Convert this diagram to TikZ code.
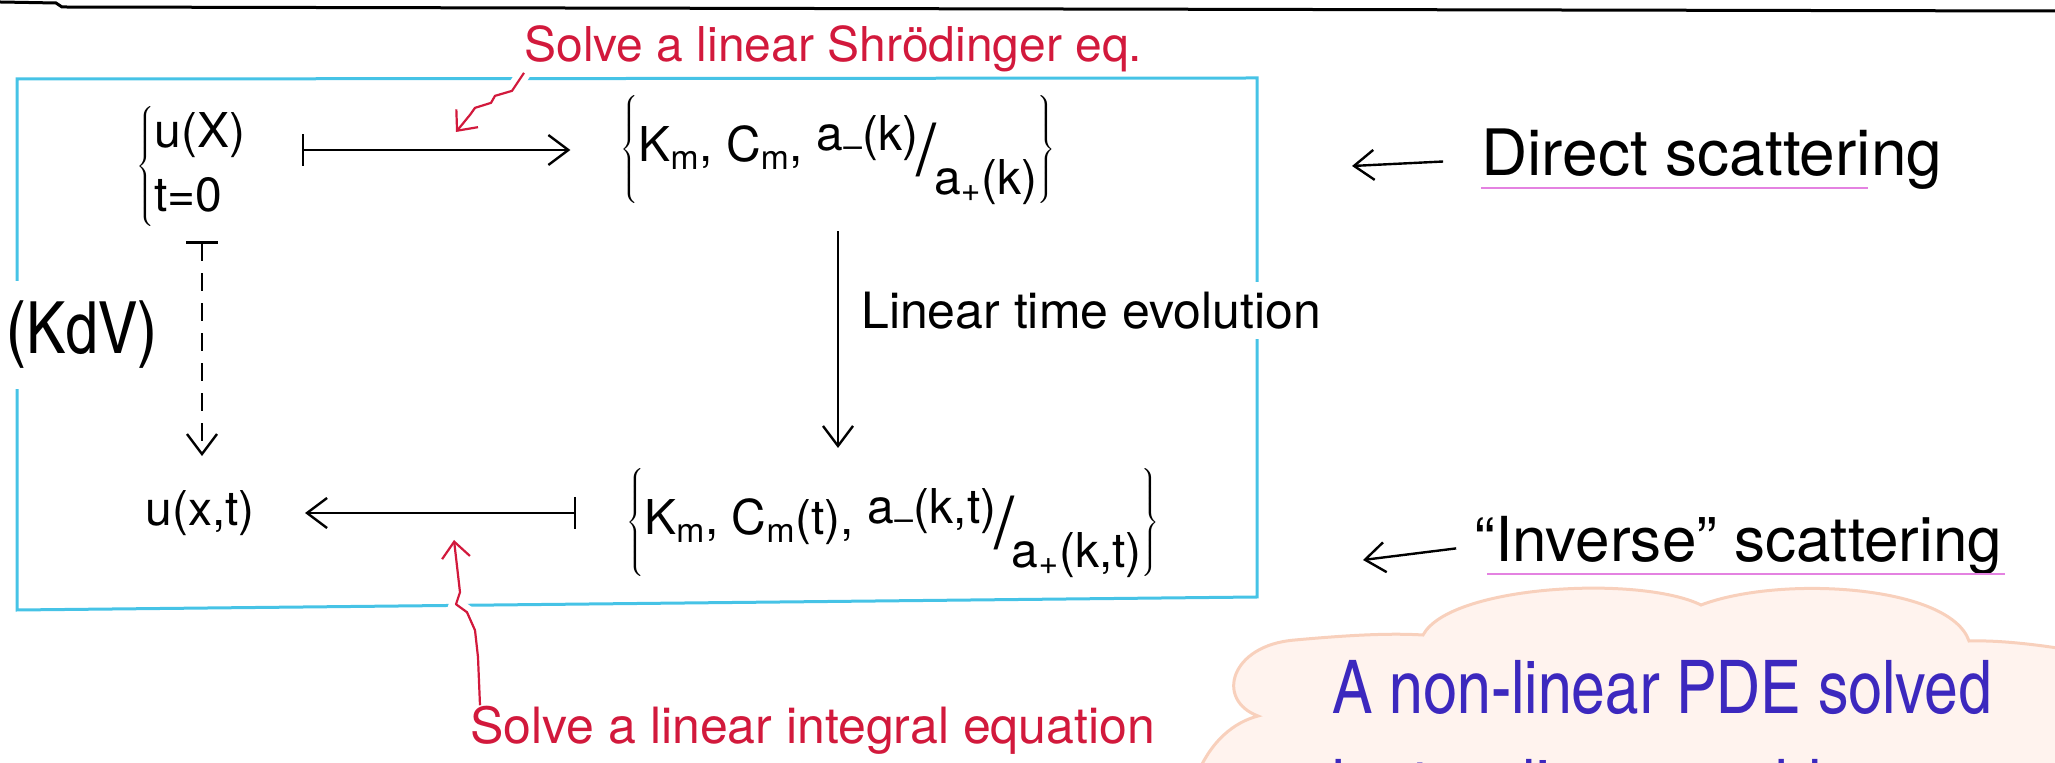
\documentclass[tikz,border=0pt]{standalone}
\usepackage{fontspec}
\setmainfont{TeX Gyre Heros}
\newfontfamily\cnfont{TeX Gyre Heros Cn}
\usepackage{graphicx}
\usetikzlibrary{arrows.meta,positioning,calc}
\definecolor{inkred}{RGB}{210,25,60}
\definecolor{inkblue}{RGB}{60,40,190}
\definecolor{boxcyan}{RGB}{70,195,230}
\definecolor{hilite}{RGB}{228,130,225}
\definecolor{cloudfill}{RGB}{255,243,238}
\definecolor{cloudline}{RGB}{248,208,188}
\newcommand{\slfrac}[2]{\raisebox{0.45ex}{#1}\kern-0.05em\raisebox{-0.55ex}{\scalebox{1.5}{/}}\kern-0.05em\raisebox{-1.3ex}{#2}}

\begin{document}
\begin{tikzpicture}[x=0.5pt, y=-0.5pt,
    math/.style={inner sep=0pt, font=\fontsize{24}{32}\selectfont},
    note/.style={inner sep=0pt, text=inkred, font=\fontsize{24}{28}\selectfont},
    side/.style={inner sep=0pt, font=\fontsize{32}{36}\selectfont},
    cloudtext/.style={inner sep=0pt, text=inkblue, font=\cnfont\fontsize{37}{40}\selectfont},
    arr/.style={-{Straight Barb[length=10pt, width=15pt]}, line width=1.2pt},
    mapsto/.style={{Bar[width=16pt]}-{Straight Barb[length=10pt, width=15pt]}, line width=1.2pt},
    squig/.style={-{Straight Barb[length=8pt, width=14pt]}, inkred, line width=1.1pt, line join=round,
                  preaction={draw=white, line width=7pt, arrows=-}},
    hl/.style={hilite, line width=1pt}]

    \useasboundingbox (0,0) rectangle (2055,763);
    \clip (0,0) rectangle (2055,763);

    % cloud in the corner
    \fill[cloudfill, draw=cloudline, line width=1.5pt]
        (1195,780) .. controls (1210,740) and (1235,722) .. (1258,716)
        .. controls (1215,700) and (1230,645) .. (1295,640)
        .. controls (1350,635) and (1390,633) .. (1423,635)
        .. controls (1450,585) and (1640,575) .. (1701,605)
        .. controls (1780,575) and (1950,585) .. (1969,641)
        .. controls (2000,640) and (2040,645) .. (2070,650)
        -- (2070,780) -- cycle;
    \node[cloudtext, anchor=base west] (pde) at (1332,713) {A non-linear PDE solved};
    \node[cloudtext, anchor=base west] (pde2) at (1332,812) {by two linear problems};

    \draw[line width=1.5pt] (0,2) -- (56,3) -- (62,7) -- (2055,11);
    \draw[boxcyan, line width=1.5pt] (17,79) -- (1257,78) -- (1257,597) -- (17,610) -- cycle;

    \node[math] (init) at (192,167)
        {$\left\{\begin{tabular}{@{}l@{}}u(X)\\t=0\end{tabular}\right.$};
    \node[math] (scat0) at (838,150)
        {$\left\{\mbox{K\textsubscript{m}, C\textsubscript{m}, \slfrac{a\textsubscript{--}(k)}{a\textsubscript{+}(k)}}\right\}$};
    \node[math] (sol) at (200,513) {u(x,t)};
    \node[math] (scatt) at (893,523)
        {$\left\{\mbox{K\textsubscript{m}, C\textsubscript{m}(t), \slfrac{a\textsubscript{--}(k,t)}{a\textsubscript{+}(k,t)}}\right\}$};
    \node[inner sep=2pt, inner ysep=10pt, fill=white, font=\cnfont\fontsize{36}{40}\selectfont] (kdv) at (82,335) {(KdV)};

    \draw[mapsto, shorten <=27pt, shorten >=25pt] (init.east |- scat0.west) -- (scat0.west);
    \draw[arr, shorten <=13pt, shorten >=10pt] (scat0.south) -- (scat0.south |- scatt.north)
        node[pos=0.4, right=11pt, inner sep=0pt, inner ysep=5pt, fill=white,
             font=\fontsize{25}{30}\selectfont] (evol) {Linear time evolution};
    \draw[mapsto, dash pattern=on 9pt off 6pt, shorten <=5pt, shorten >=17pt]
        ([xshift=5pt]init.south) -- ([xshift=5pt]init.south |- sol.north);
    \draw[mapsto, shorten <=25pt, shorten >=25pt] (scatt.west |- sol.east) -- (sol.east);

    % red remarks
    \node[note, anchor=base west] (shro) at (524,62) {Solve a linear Shrödinger eq.};
    \coordinate (shrotip) at (456,132);
    \draw[squig] (shro.south west) -- ++(-12,18) -- ++(-17,5) -- ++(-4,7) -- ++(-16,5) -- ++(-5,7) -- (shrotip);
    \node[note, anchor=base west, font=\fontsize{25}{28}\selectfont] (inteq) at (470,743) {Solve a linear integral equation};
    \coordinate (soltip) at (454,540);
    \draw[squig] ([xshift=5pt]inteq.north west) -- ++(-2,-48) -- ++(-3,-27) -- ++(-8,-18) -- ++(-11,-8) -- ++(4,-12) -- (soltip);

    % right hand side
    \node[side, anchor=base west] (direct) at (1481,176) {Direct scattering};
    \coordinate (dirpt) at (1352,166);
    \draw[arr, shorten <=19pt] (direct.west) -- (dirpt);
    \draw[hl] ([yshift=-6pt]direct.base west) -- ++(387,0);
    \node[side, anchor=base west, font=\fontsize{31}{36}\selectfont] (inverse) at (1474,562) {“Inverse” scattering};
    \coordinate (invpt) at (1363,560);
    \draw[arr, shorten <=9pt] (inverse.west) -- (invpt);
    \draw[hl] ([yshift=-6pt]inverse.base west) ++(13,0) -- ++(518,0);
\end{tikzpicture}
\end{document}
